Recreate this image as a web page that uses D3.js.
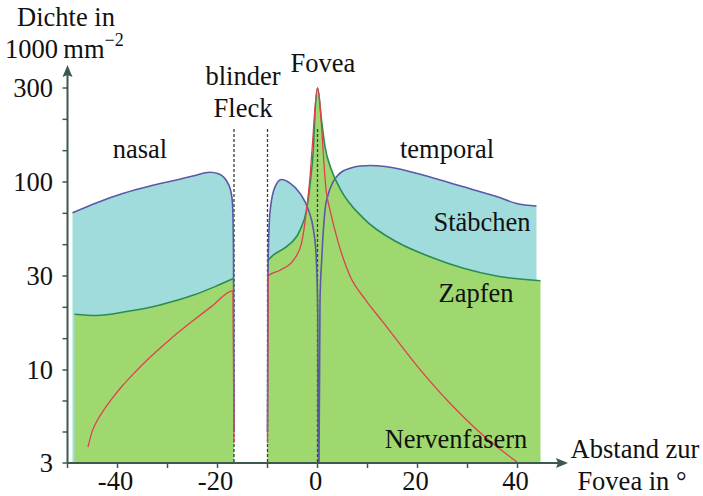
<!DOCTYPE html>
<html>
<head>
<meta charset="utf-8">
<script src="https://cdn.jsdelivr.net/npm/d3@7"></script>
<style>
  html, body { margin: 0; padding: 0; background: #fff; }
  svg text { font-family: "Liberation Serif", "Times New Roman", Tinos, serif; fill: #111; }
</style>
</head>
<body>
<svg id="chart" width="703" height="496"></svg>
<script>
// Receptor and nerve-fibre density across the retina (thousands per mm², log scale)
// x: eccentricity in degrees from the fovea (negative = nasal, positive = temporal)

const xTicksMajor = [-40, -20, 0, 20, 40];
const xTicksMinor = [-50, -30, -10, 10, 30];
const yTicks = [3, 10, 30, 100, 300];

const blindSpot = [-16.7, -10];
const fovea = 0;

// Rods (Stäbchen), nasal side up to the blind spot
const rodsNasal = [
  [-49, 67.4], [-44, 77], [-38.8, 86.5], [-33.5, 95], [-28.2, 102.4], [-24.5, 108],
  [-21.5, 112], [-19.8, 110], [-18.8, 106], [-17.8, 97], [-17.3, 88], [-17.0, 76], [-16.8, 40], [-16.7, 4.6]
];
// Rods, from the blind spot through the fovea to the temporal edge
const rodsTemporal = [
  [-10, 4.5], [-9.9, 30], [-9.7, 55], [-9.4, 72], [-8.5, 94], [-7.2, 103], [-5.5, 98.6],
  [-3.5, 86.5], [-1.8, 69.7], [-0.8, 54], [-0.3, 40], [0.05, 20], [0.15, 3], [0.3, 3],
  [0.5, 22.6], [0.84, 36.8], [1.5, 69.7], [2.1, 84.6], [2.9, 97.4], [3.9, 107], [5.1, 113.7],
  [6.5, 117.4], [8.5, 120.5], [10.5, 121.2], [13.5, 119.9], [15.9, 117.2], [22.5, 106],
  [29.2, 94], [35.8, 83], [39.8, 76], [43.8, 73.5]
];

// Cones (Zapfen)
const conesNasal = [
  [-48.6, 19.2], [-44.2, 18.9], [-38.2, 19.8], [-31.5, 21.4], [-24.8, 24.0], [-20.5, 26.5], [-16.7, 29.2]
];
const conesTemporal = [
  [-10, 36.5], [-8.8, 39.3], [-6.2, 43.7], [-3.5, 54], [-2.2, 69.7], [-1.4, 102], [-0.8, 151],
  [-0.5, 223], [0, 300], [0.8, 206], [1.5, 151], [2.8, 115], [4.5, 92], [9.2, 62.8],
  [15.8, 46.5], [22.5, 38.4], [29.2, 33.1], [35.8, 30], [44.6, 28.4]
];

// Nerve fibres (Nervenfasern)
const fibresNasal = [
  [-45.9, 3.69], [-45.1, 4.49], [-44.1, 5.17], [-42.7, 5.98], [-41.1, 6.9], [-39.1, 8.1],
  [-36.5, 9.72], [-33.5, 11.6], [-29.5, 14.3], [-25.5, 17.3], [-21.1, 21.1], [-16.9, 25.2],
  [-16.7, 3.9]
];
const fibresTemporal = [
  [-10, 3.9], [-9.9, 30], [-7.5, 32.3], [-4.8, 36.8], [-3.2, 45.6], [-2.2, 69.7],
  [-1.5, 106], [-1.1, 145], [0, 300], [1.8, 86.5], [2.5, 69.7], [4.2, 45.6], [6.5, 30],
  [9.5, 22.9], [13.1, 17.5], [19.9, 10.5], [26.5, 6.5], [33.1, 4.3], [39.9, 3.04]
];

const colors = {
  rodsFill: "#a0dcdc", rodsLine: "#5b58a6",
  conesFill: "#a0d870", conesLine: "#2a8c55",
  fibres: "#e0404e", axis: "#3c5a4c", guide: "#2b4638"
};

const svg = d3.select("#chart");

const x = d3.scaleLinear().domain([-50, 50]).range([67.5, 567.5]);
// piecewise log scale: each labelled step sits on an even grid
const y = d3.scaleLog().domain(yTicks).range([463, 370, 276, 182, 88]);
const yBase = y(3);

const area = d3.area()
  .x(d => x(d[0])).y0(yBase).y1(d => y(Math.max(3, d[1])))
  .curve(d3.curveMonotoneX);
const line = d3.line()
  .x(d => x(d[0])).y(d => y(Math.max(3, d[1])))
  .curve(d3.curveMonotoneX);

const plot = svg.append("g");

[rodsNasal, rodsTemporal].forEach(s =>
  plot.append("path").attr("d", area(s)).attr("fill", colors.rodsFill));
[conesNasal, conesTemporal].forEach(s =>
  plot.append("path").attr("d", area(s)).attr("fill", colors.conesFill));

// blind-spot edges and the fovea centre
[...blindSpot, fovea].forEach(v =>
  plot.append("line")
    .attr("x1", x(v)).attr("x2", x(v))
    .attr("y1", y(186)).attr("y2", yBase)
    .attr("stroke", colors.guide).attr("stroke-width", 1.3)
    .attr("stroke-dasharray", "3,2"));

[rodsNasal, rodsTemporal].forEach(s =>
  plot.append("path").attr("d", line(s)).attr("fill", "none")
    .attr("stroke", colors.rodsLine).attr("stroke-width", 1.6));
[conesNasal, conesTemporal].forEach(s =>
  plot.append("path").attr("d", line(s)).attr("fill", "none")
    .attr("stroke", colors.conesLine).attr("stroke-width", 1.6));
[fibresNasal, fibresTemporal].forEach(s =>
  plot.append("path").attr("d", line(s)).attr("fill", "none")
    .attr("stroke", colors.fibres).attr("stroke-width", 1.3));

// axes
const ax = svg.append("g").attr("stroke", colors.axis).attr("fill", colors.axis);
const x0 = x(-50);
ax.append("line").attr("x1", x0).attr("x2", 560).attr("y1", yBase).attr("y2", yBase).attr("stroke-width", 2);
ax.append("path").attr("stroke", "none").attr("d", `M568,${yBase} L556,${yBase - 5} L558,${yBase} L556,${yBase + 5} Z`);
ax.append("line").attr("x1", x0).attr("x2", x0).attr("y1", yBase).attr("y2", 74).attr("stroke-width", 2);
ax.append("path").attr("stroke", "none").attr("d", `M${x0},65 L${x0 - 5},77 L${x0},75 L${x0 + 5},77 Z`);

[...xTicksMajor, ...xTicksMinor].forEach(v =>
  ax.append("line").attr("x1", x(v)).attr("x2", x(v)).attr("y1", yBase).attr("y2", yBase + 5).attr("stroke-width", 1.5));

const yMinor = [];
for (let i = 0; i < yTicks.length - 1; i++) {
  const a = y(yTicks[i]), b = y(yTicks[i + 1]);
  yMinor.push(a + (b - a) / 3, a + 2 * (b - a) / 3);
}
[...yTicks.map(y), ...yMinor].forEach(p =>
  ax.append("line").attr("x1", x0 - 5).attr("x2", x0).attr("y1", p).attr("y2", p).attr("stroke-width", 1.5));

const fs = 26.5;
yTicks.forEach(v =>
  svg.append("text").attr("x", 53).attr("y", y(v) + 9).attr("text-anchor", "end")
    .attr("font-size", fs).text(v));
xTicksMajor.forEach(v =>
  svg.append("text").attr("x", x(v) - 2).attr("y", 490).attr("text-anchor", "middle")
    .attr("font-size", fs).text(v));

// axis titles
svg.append("text").attr("x", 66).attr("y", 26).attr("text-anchor", "middle").attr("font-size", fs).text("Dichte in");
const unit = svg.append("text").attr("x", 5).attr("y", 58).attr("font-size", fs);
unit.append("tspan").text("1000\u2009mm");
unit.append("tspan").attr("font-size", 18).attr("dy", -12).text("\u22122");

svg.append("text").attr("x", 635).attr("y", 458).attr("text-anchor", "middle").attr("font-size", fs).text("Abstand zur");
svg.append("text").attr("x", 632).attr("y", 490).attr("text-anchor", "middle").attr("font-size", fs).text("Fovea in °");

// region and series labels
const labels = [
  ["nasal", 140, 158], ["blinder", 243, 85], ["Fleck", 243, 117], ["Fovea", 323, 72],
  ["temporal", 447, 158], ["Stäbchen", 482, 231], ["Zapfen", 476, 302], ["Nervenfasern", 456, 448]
];
labels.forEach(([t, lx, ly]) =>
  svg.append("text").attr("x", lx).attr("y", ly).attr("text-anchor", "middle").attr("font-size", fs).text(t));
</script>
</body>
</html>
